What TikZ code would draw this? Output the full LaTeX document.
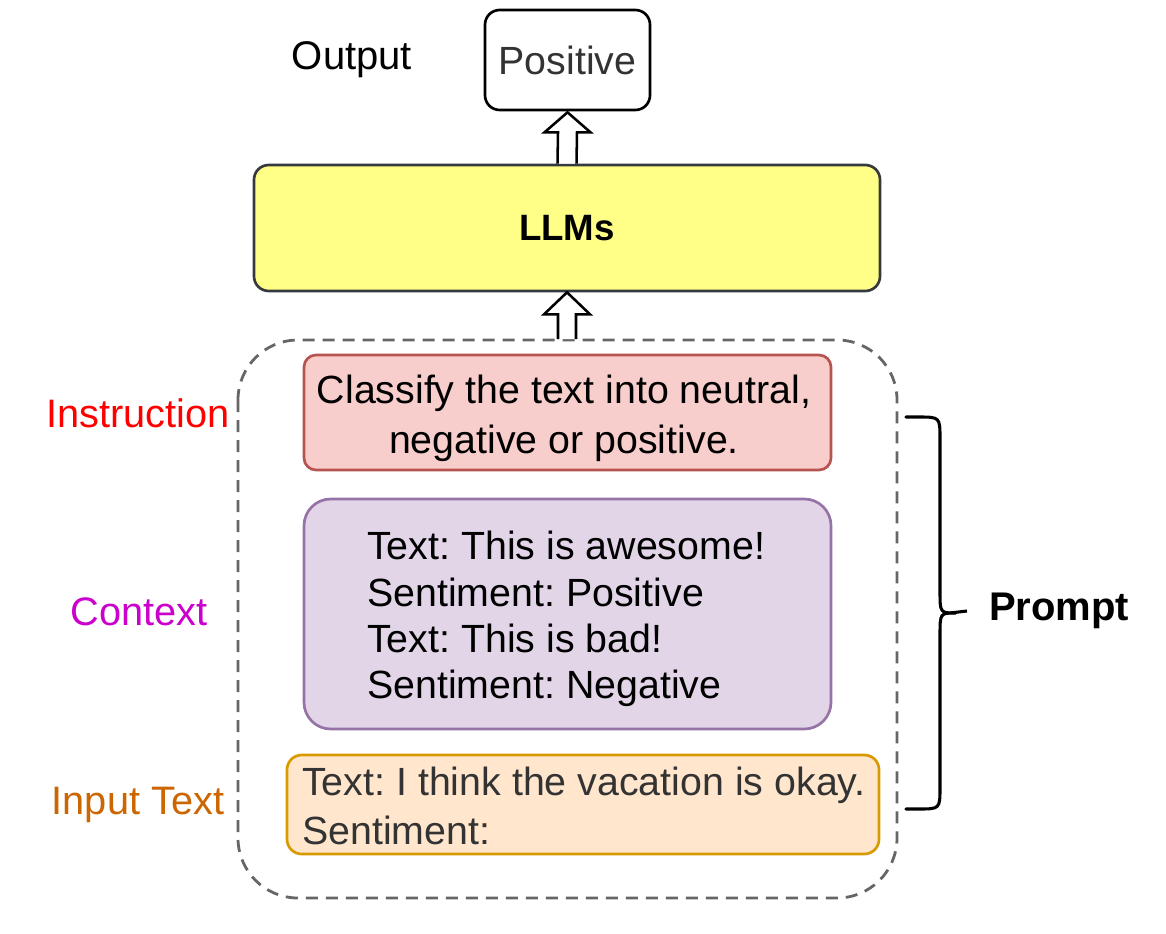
\documentclass[tikz,border=0pt]{standalone}
\usepackage{fontspec}
\setmainfont{Liberation Sans}
\usetikzlibrary{calc}
\definecolor{instrfill}{HTML}{F8CECC}
\definecolor{instrdraw}{HTML}{B85450}
\definecolor{ctxfill}{HTML}{E1D5E7}
\definecolor{ctxdraw}{HTML}{9673A6}
\definecolor{inpfill}{HTML}{FFE6CC}
\definecolor{inpdraw}{HTML}{D79B00}
\definecolor{llmfill}{HTML}{FFFF88}
\definecolor{llmdraw}{HTML}{36393D}
\definecolor{darktext}{HTML}{333333}
\definecolor{dashgray}{HTML}{666666}
\definecolor{instrlabel}{HTML}{FF0000}
\definecolor{ctxlabel}{HTML}{CC00CC}
\definecolor{inplabel}{HTML}{CC6600}
\frenchspacing
\begin{document}
\begin{tikzpicture}[x=0.75pt,y=-0.75pt,
  txt/.style={font=\fontsize{29.5}{35.25}\selectfont, inner sep=0pt},
  box/.style={draw, line width=2pt, inner sep=0pt},
  blockarrow/.style={draw=black, fill=white, line width=1.9pt, line join=miter},
  sidelabel/.style={txt, anchor=center, font=\fontsize{29.8}{35}\selectfont}]
\useasboundingbox (0,0) rectangle (1166,934);
\fill[white] (0,0) rectangle (1166,934);

% dashed frame around the prompt parts
\draw[dashgray, line width=2.1pt, dash pattern=on 9pt off 6pt, rounded corners=45pt]
  (238,340) rectangle (897,898);
\coordinate (frametop) at (567,340);

% output box
\node[box, rounded corners=11pt, draw=black, minimum width=123.75pt, minimum height=75pt,
      txt, font=\fontsize{29.5}{35}\selectfont, text=darktext] (pos) at (567.5,60) {Positive};
\node[txt, font=\fontsize{30}{35}\selectfont] (outlbl) at (352,60) {Output};

% LLM block
\node[box, rounded corners=11pt, draw=llmdraw, fill=llmfill, minimum width=469.5pt,
      minimum height=94.5pt, txt, font=\fontsize{27.5}{35}\selectfont\bfseries] (llm) at (567,228) {LLMs};

% instruction
\node[box, rounded corners=9pt, draw=instrdraw, fill=instrfill, minimum width=395.25pt,
      minimum height=86.25pt] (instr) at (567.5,412.5) {};
\node[txt, align=center, anchor=north, font=\fontsize{29.5}{37.5}\selectfont] (instrtxt) at (564,375)
  {Classify the text into neutral,\\negative or positive.};

% context examples
\node[box, rounded corners=20pt, draw=ctxdraw, fill=ctxfill, minimum width=395.25pt,
      minimum height=172.5pt] (ctx) at (567.5,614) {};
\node[txt, align=left, anchor=north west, font=\fontsize{29.5}{34.7}\selectfont] (ctxtxt) at (367,531)
  {Text: This is awesome!\\Sentiment: Positive\\Text: This is bad!\\Sentiment: Negative};

% input text
\node[box, rounded corners=11pt, draw=inpdraw, fill=inpfill, minimum width=444pt,
      minimum height=74.25pt] (inp) at (583,804.5) {};
\node[txt, align=left, anchor=north west, text=darktext, font=\fontsize{29.5}{36.5}\selectfont] (inptxt) at (302,767)
  {Text: I think the vacation is okay.\\Sentiment:};

% side labels
\node[sidelabel, text=instrlabel] (lblinstr) at (138,413) {Instruction};
\node[sidelabel, text=ctxlabel] (lblctx) at (139,612) {Context};
\node[sidelabel, text=inplabel] (lblinp) at (138,805) {Input Text};
\node[sidelabel, font=\fontsize{30}{35}\selectfont\bfseries] (prompt) at (1059,611) {Prompt};

% hollow block arrows
\draw[blockarrow]
  ($(llm.north)+(-9.5,0)$) -- ($(pos.south)+(-9.5,21)$) -- ($(pos.south)+(-23,21)$)
  -- ($(pos.south)+(0,1)$) -- ($(pos.south)+(23,21)$) -- ($(pos.south)+(9.5,21)$)
  -- ($(llm.north)+(9.5,0)$);
\draw[blockarrow]
  ($(frametop)+(-9,-1)$) -- ($(llm.south)+(-9,22)$) -- ($(llm.south)+(-23,22)$)
  -- ($(llm.south)+(0,0)$) -- ($(llm.south)+(23,22)$) -- ($(llm.south)+(9,22)$)
  -- ($(frametop)+(9,-1)$);

% curly brace grouping the prompt
\coordinate (bracetop) at (906,417);
\coordinate (bracebot) at (906,809);
\draw[black, line width=2.3pt, line cap=round]
  (bracetop) -- (918,417) .. controls (940,417) .. (940,439) -- (940,591)
  .. controls (940,613) .. (956,613)
  .. controls (940,613) .. (940,635) -- (940,787)
  .. controls (940,809) .. (918,809) -- (bracebot);
\draw[black, line width=2.3pt] (950,613) -- (prompt.west -| 967,613);
\end{tikzpicture}
\end{document}
